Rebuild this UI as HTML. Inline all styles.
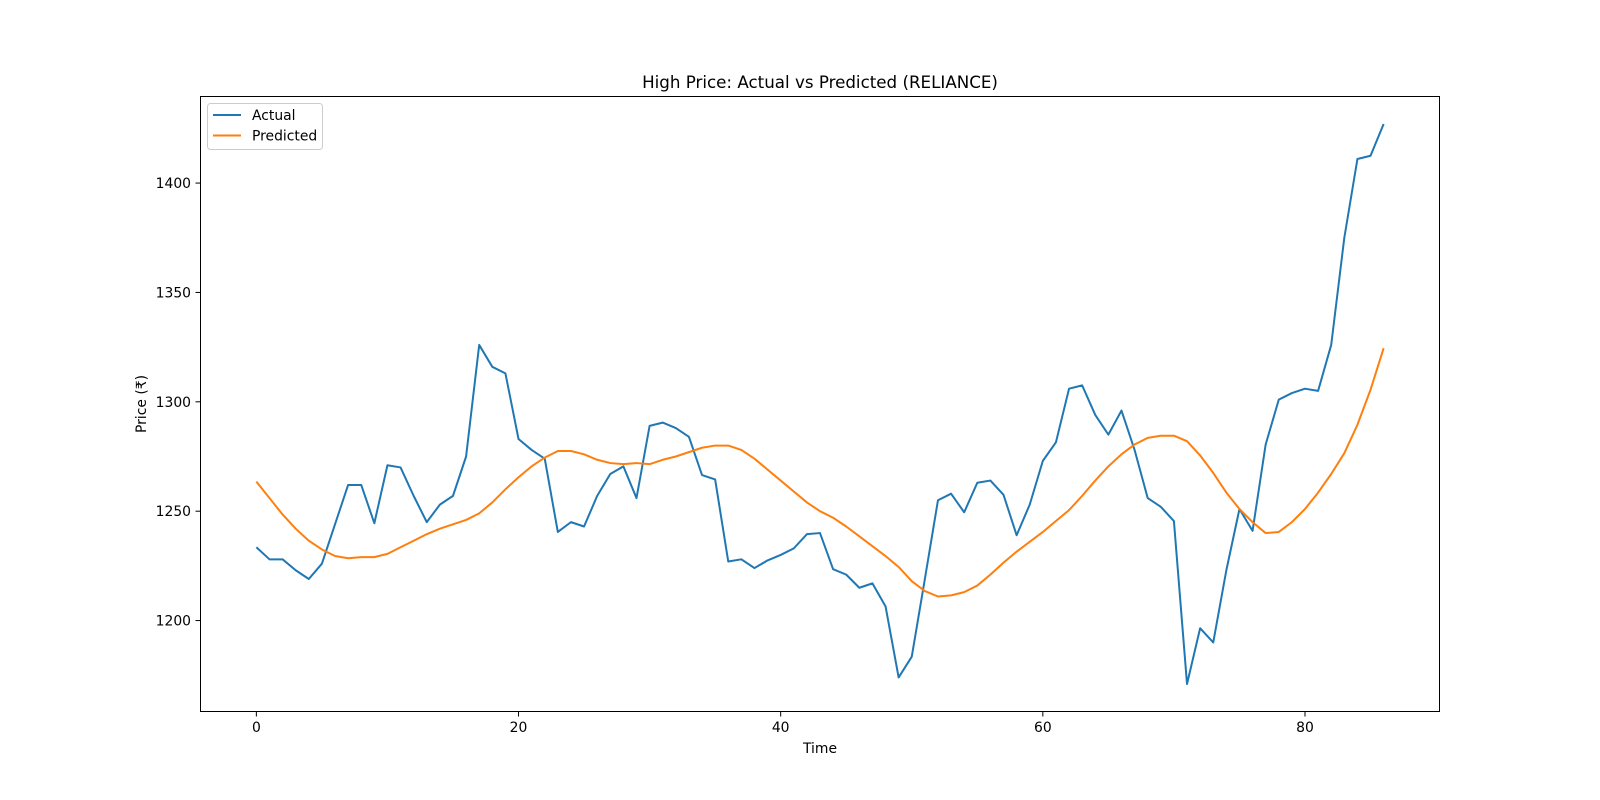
<!DOCTYPE html>
<html><head><meta charset="utf-8"><style>body{margin:0;background:#fff}svg{display:block;font-family:"DejaVu Sans","Liberation Sans",sans-serif}</style></head>
<body>
<svg id="chart" width="1600" height="800" xmlns="http://www.w3.org/2000/svg">
<rect width="1600" height="800" fill="#fff"/>
<text x="820" y="88" text-anchor="middle" font-size="16.7">High Price: Actual vs Predicted (RELIANCE)</text>
<g id="plot"></g>
<rect x="200.5" y="96.5" width="1239" height="615" fill="none" stroke="#000" stroke-width="1"/>
<text x="820" y="753" text-anchor="middle" font-size="13.9">Time</text>
<text transform="translate(146,404) rotate(-90)" text-anchor="middle" font-size="13.9">Price (₹)</text>
<g>
<rect x="207.5" y="103.5" width="115" height="46" rx="3" fill="#fff" stroke="#ccc"/>
<line x1="213" y1="115" x2="241" y2="115" stroke="#1f77b4" stroke-width="2"/>
<text x="252" y="120" font-size="13.9">Actual</text>
<line x1="213" y1="135.5" x2="241" y2="135.5" stroke="#ff7f0e" stroke-width="2"/>
<text x="252" y="140.5" font-size="13.9">Predicted</text>
</g>
</svg>
<script>
const actual=[1233.5,1228,1228,1223,1219,1226,1244,1262,1262,1244.5,1271,1270,1257,1245,1253,1257,1275,1326,1316,1313,1283,1278,1274,1240.5,1245,1243,1257,1267,1270.5,1256,1289,1290.5,1288,1284,1266.5,1264.5,1227,1228,1224,1227.5,1230,1233,1239.5,1240,1223.5,1221,1215,1217,1206.5,1174,1183.5,1219,1255,1258,1249.5,1263,1264,1257.5,1239,1253,1273,1281.5,1306,1307.5,1294,1285,1296,1278,1256,1252,1245.5,1171,1196.5,1190,1223,1251,1241,1280.5,1301,1304,1306,1305,1326,1375,1411,1412.5,1427];
const predicted=[1263.5,1256,1248.5,1242,1236.5,1232.5,1229.5,1228.5,1229,1229,1230.5,1233.5,1236.5,1239.5,1242,1244,1246,1249,1254,1260,1265.5,1270.5,1274.5,1277.5,1277.5,1276,1273.5,1272,1271.5,1272,1271.5,1273.5,1275,1277,1279,1280,1280,1278,1274,1269,1264,1259,1254,1250,1247,1243,1238.5,1234,1229.5,1224.5,1218,1213.5,1211,1211.5,1213,1216,1221,1226.5,1231.5,1236,1240.5,1245.5,1250.5,1257,1264,1270.5,1276,1280.5,1283.5,1284.5,1284.5,1282,1275.5,1267.5,1258.5,1251,1245,1240,1240.5,1245,1251,1258.5,1267,1276.5,1289.5,1305.5,1324.5];
const xTicks=[0,20,40,60,80];
const yTicks=[1200,1250,1300,1350,1400];
const NS="http://www.w3.org/2000/svg";
const X0=200,X1=1440,Y0=96,Y1=712;
const n=actual.length-1;
const xmin=-0.05*n,xmax=n*1.05;
const all=actual.concat(predicted);
const dmin=Math.min(...all),dmax=Math.max(...all),pad=(dmax-dmin)*0.05;
const ymin=dmin-pad,ymax=dmax+pad;
const xs=v=>X0+(v-xmin)*(X1-X0)/(xmax-xmin);
const ys=v=>Y1-(v-ymin)*(Y1-Y0)/(ymax-ymin);
const g=document.getElementById('plot');
function mk(t,a){const e=document.createElementNS(NS,t);for(const k in a)e.setAttribute(k,a[k]);g.appendChild(e);return e;}
xTicks.forEach(t=>{
 const l=mk('line',{x1:xs(t),x2:xs(t),y1:712,y2:716.5,stroke:'#000'});
 
 
 const tx=mk('text',{x:xs(t),y:732,'text-anchor':'middle','font-size':13.9});tx.textContent=t;
 
 
});
yTicks.forEach(t=>{
 const l=mk('line',{x1:195.5,x2:200.5,y1:ys(t),y2:ys(t),stroke:'#000'});
 
 
 const tx=mk('text',{x:191,y:ys(t)+5,'text-anchor':'end','font-size':13.9});tx.textContent=t;
 
 
});
function line(arr,color,name){
 const p=mk('polyline',{points:arr.map((v,i)=>xs(i)+','+ys(v)).join(' '),fill:'none',stroke:color,'stroke-width':2,'stroke-linejoin':'round'});
 
 
}
line(actual,'#1f77b4','actual-line');
line(predicted,'#ff7f0e','predicted-line');
</script>
</body></html>
